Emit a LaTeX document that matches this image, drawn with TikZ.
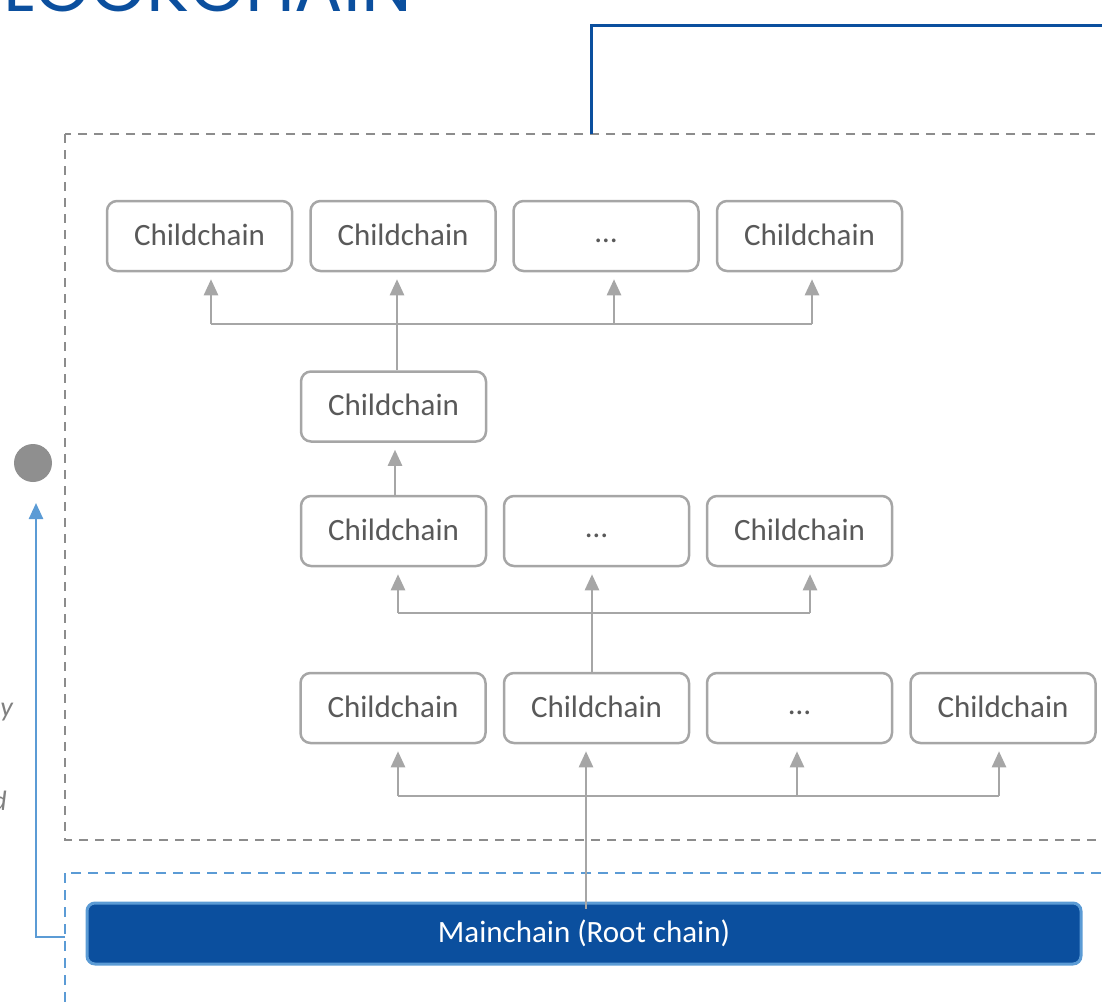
\documentclass[tikz,border=0pt]{standalone}
\usepackage{fontspec}
\setmainfont{Carlito}
\newfontfamily\titlefont{Poppins}
\usetikzlibrary{arrows.meta}
\definecolor{boxgray}{HTML}{A6A6A6}
\definecolor{txtgray}{HTML}{595959}
\definecolor{dashgray}{HTML}{8C8C8C}
\definecolor{darkblue}{HTML}{0B4F9E}
\definecolor{lightblue}{HTML}{5B9BD5}
\definecolor{dotgray}{HTML}{8F8F8F}
\newcommand{\elli}{\raisebox{3pt}{\ldots}}
\begin{document}
\begin{tikzpicture}[x=1pt,y=-1pt,
  chainbox/.style={draw=boxgray, line width=2.5pt, rounded corners=10pt, fill=white,
    minimum width=185pt, minimum height=70pt, inner sep=0pt, text=txtgray,
    text height=22pt, text depth=4pt,
    font=\fontsize{31}{36}\selectfont},
  conn/.style={draw=boxgray, line width=2.5pt},
  arr/.style={conn, -{Triangle[length=16pt,width=14pt]}, shorten >=7pt},
  mainbox/.style={draw=lightblue, line width=3pt, rounded corners=8pt, fill=darkblue,
    minimum width=994pt, minimum height=61pt, inner sep=0pt, text=white,
    font=\fontsize{31}{36}\selectfont},
  graydash/.style={draw=dashgray, line width=2.5pt, dash pattern=on 9pt off 7pt},
  bluedash/.style={draw=lightblue, line width=2.5pt, dash pattern=on 10pt off 7pt},
  sidetext/.style={text=gray, font=\fontsize{28}{32}\selectfont\itshape, inner sep=0pt}
]
\useasboundingbox (0,0) rectangle (1102,1001);
\clip (0,0) rectangle (1102,1001);

% title (cut off by the page edge)
\node[anchor=base east, inner sep=0pt, text=darkblue, font=\fontsize{72}{76}\selectfont\titlefont] (title) at (412,12) {BLOCKCHAIN};

% frames
\draw[graydash] (65,134) rectangle (1130,840);
\draw[bluedash] (65,873) rectangle (1130,1040);
\draw[darkblue, line width=3pt] (591,134) -- (591,25) -- (1120,25);

% side elements
\fill[dotgray] (33,463) circle (19pt);
\node[sidetext, anchor=base east] (s1) at (13,716) {y};
\node[sidetext, anchor=base east] (s2) at (7,810) {d};

% rows
\node[chainbox] (a1) at (199.5,236) {Childchain};
\node[chainbox] (a2) at (403,236) {Childchain};
\node[chainbox] (a3) at (606,236) {\elli};
\node[chainbox] (a4) at (809.5,236) {Childchain};

\node[chainbox] (b1) at (393.5,406.5) {Childchain};

\node[chainbox] (c1) at (393.5,531) {Childchain};
\node[chainbox] (c2) at (596.5,531) {\elli};
\node[chainbox] (c3) at (799.5,531) {Childchain};

\node[chainbox] (d1) at (393,708) {Childchain};
\node[chainbox] (d2) at (596.5,708) {Childchain};
\node[chainbox] (d3) at (799.5,708) {\elli};
\node[chainbox] (d4) at (1003,708) {Childchain};

\node[mainbox] (m) at (584,933.5) {Mainchain (Root chain)};

% bus 1 (b1 -> row a)
\coordinate (p1) at (211,324);
\coordinate (p2) at (397,324);
\coordinate (p3) at (614,324);
\coordinate (p4) at (812,324);
\draw[conn] (p1) -- (p4);
\draw[arr] (p1) -- (p1 |- a1.south);
\draw[arr] (p2 |- b1.north) -- (p2 |- a2.south);
\draw[arr] (p3) -- (p3 |- a3.south);
\draw[arr] (p4) -- (p4 |- a4.south);

% c1 -> b1
\coordinate (q1) at (395,0);
\draw[arr] (q1 |- c1.north) -- (q1 |- b1.south);

% bus 2 (d2 -> row c)
\coordinate (r1) at (398,613);
\coordinate (r2) at (592,613);
\coordinate (r3) at (810,613);
\draw[conn] (r1) -- (r3);
\draw[arr] (r1) -- (r1 |- c1.south);
\draw[arr] (r2 |- d2.north) -- (r2 |- c2.south);
\draw[arr] (r3) -- (r3 |- c3.south);

% bus 3 (main -> row d)
\coordinate (t1) at (398,796);
\coordinate (t2) at (586,796);
\coordinate (t3) at (797,796);
\coordinate (t4) at (999,796);
\draw[conn] (t1) -- (t4);
\draw[arr] (t1) -- (t1 |- d1.south);
\draw[arr] ([yshift=-7pt]t2 |- m.north) -- (t2 |- d2.south);
\draw[arr] (t3) -- (t3 |- d3.south);
\draw[arr] (t4) -- (t4 |- d4.south);

% light blue return arrow
\coordinate (u0) at (65,937);
\coordinate (u1) at (36,937);
\coordinate (u2) at (36,482);
\draw[lightblue, line width=2.5pt, -{Triangle[length=16pt,width=14pt]}, shorten >=21pt] (u0) -- (u1) -- (u2);
\end{tikzpicture}
\end{document}
